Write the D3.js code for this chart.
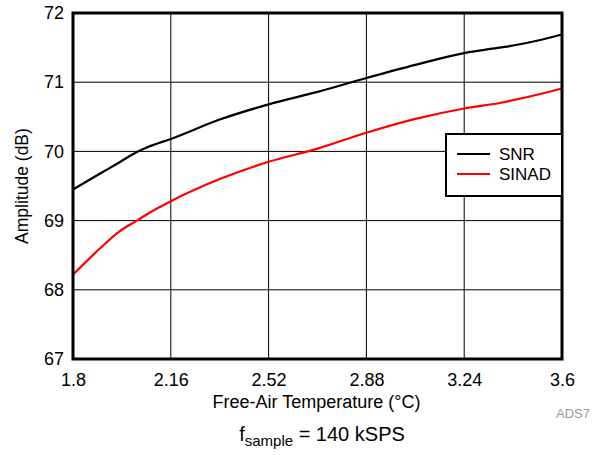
<!DOCTYPE html>
<html>
<head>
<meta charset="utf-8">
<script src="https://cdn.jsdelivr.net/npm/d3@7/dist/d3.min.js"></script>
<style>
  html, body { margin: 0; padding: 0; background: #fff; }
  svg { display: block; font-family: "Liberation Sans", Arial, Helvetica, sans-serif; }
</style>
</head>
<body>
<svg id="chart" width="600" height="455"></svg>
<script>
// ---- data ----
const voltage = [1.8, 1.9, 1.97, 2.035, 2.08, 2.16, 2.34, 2.52, 2.7, 2.88, 3.06, 3.24, 3.37, 3.42, 3.52, 3.6];
const snr     = [69.45, 69.68, 69.84, 69.99, 70.07, 70.18, 70.46, 70.68, 70.86, 71.06, 71.25, 71.42, 71.50, 71.53, 71.61, 71.69];
const sinad   = [68.22, 68.60, 68.84, 69.00, 69.11, 69.28, 69.60, 69.85, 70.04, 70.27, 70.47, 70.62, 70.70, 70.74, 70.83, 70.91];
const xTicks  = [1.8, 2.16, 2.52, 2.88, 3.24, 3.6];
const yTicks  = [67, 68, 69, 70, 71, 72];
const seriesNames  = ["SNR", "SINAD"];
const seriesColors = ["#000000", "#ff0000"];

// ---- layout ----
const svg = d3.select("#chart");
const L = 73, R = 562, T = 13, B = 359;
const x = d3.scaleLinear().domain([1.8, 3.6]).range([L, R]);
const y = d3.scaleLinear().domain([67, 72]).range([B, T]);

// grid
const g = svg.append("g");
g.selectAll(".vg").data(xTicks).enter().append("line")
  .attr("x1", d => x(d)).attr("x2", d => x(d)).attr("y1", T).attr("y2", B)
  .attr("stroke", "#000").attr("stroke-width", 1);
g.selectAll(".hg").data(yTicks).enter().append("line")
  .attr("x1", L).attr("x2", R).attr("y1", d => y(d)).attr("y2", d => y(d))
  .attr("stroke", "#000").attr("stroke-width", 1);

// axes (labels only)
const xAxis = d3.axisBottom(x).tickValues(xTicks).tickSize(0).tickPadding(14)
  .tickFormat(d => String(d));
const yAxis = d3.axisLeft(y).tickValues(yTicks).tickSize(0).tickPadding(9)
  .tickFormat(d => String(d));
const gx = svg.append("g").attr("transform", `translate(0,${B})`).call(xAxis);
const gy = svg.append("g").attr("transform", `translate(${L},0)`).call(yAxis);
[gx, gy].forEach(a => {
  a.select(".domain").remove();
  a.selectAll("text").attr("font-size", 18).attr("fill", "#000")
    .attr("font-family", '"Liberation Sans", Arial, sans-serif');
});

// lines
const series = [snr, sinad];
series.forEach((vals, i) => {
  const line = d3.line().x((d, j) => x(voltage[j])).y(d => y(d)).curve(d3.curveMonotoneX);
  svg.append("path").datum(vals).attr("d", line)
    .attr("fill", "none").attr("stroke", seriesColors[i]).attr("stroke-width", 2.2);
});

// frame
svg.append("rect").attr("x", L).attr("y", T).attr("width", R - L).attr("height", B - T)
  .attr("fill", "none").attr("stroke", "#000").attr("stroke-width", 3);

// legend
const lg = svg.append("g");
lg.append("rect").attr("x", 446).attr("y", 134).attr("width", 116).attr("height", 62)
  .attr("fill", "#fff").attr("stroke", "#000").attr("stroke-width", 2);
seriesNames.forEach((n, i) => {
  const ly = 154 + i * 20;
  lg.append("line").attr("x1", 457).attr("x2", 490).attr("y1", ly).attr("y2", ly)
    .attr("stroke", seriesColors[i]).attr("stroke-width", 2.2);
  lg.append("text").attr("x", 499).attr("y", ly).attr("dy", "0.35em")
    .attr("font-size", 17).text(n);
});

// titles
svg.append("text").attr("x", (L + R) / 2 - 1).attr("y", 408).attr("text-anchor", "middle")
  .attr("font-size", 18).text("Free-Air Temperature (°C)");
svg.append("text").attr("transform", `translate(28,${(T + B) / 2}) rotate(-90)`)
  .attr("text-anchor", "middle").attr("font-size", 17.5).text("Amplitude (dB)");
svg.append("text").attr("x", 590).attr("y", 418).attr("text-anchor", "end")
  .attr("font-size", 13).attr("fill", "#999").text("ADS7");

const ft = svg.append("text").attr("x", 322).attr("y", 441).attr("text-anchor", "middle")
  .attr("font-size", 20);
ft.append("tspan").text("f");
ft.append("tspan").attr("font-size", 15).attr("dy", 5).text("sample");
ft.append("tspan").attr("dy", -5).text(" = 140 kSPS");
</script>
</body>
</html>
